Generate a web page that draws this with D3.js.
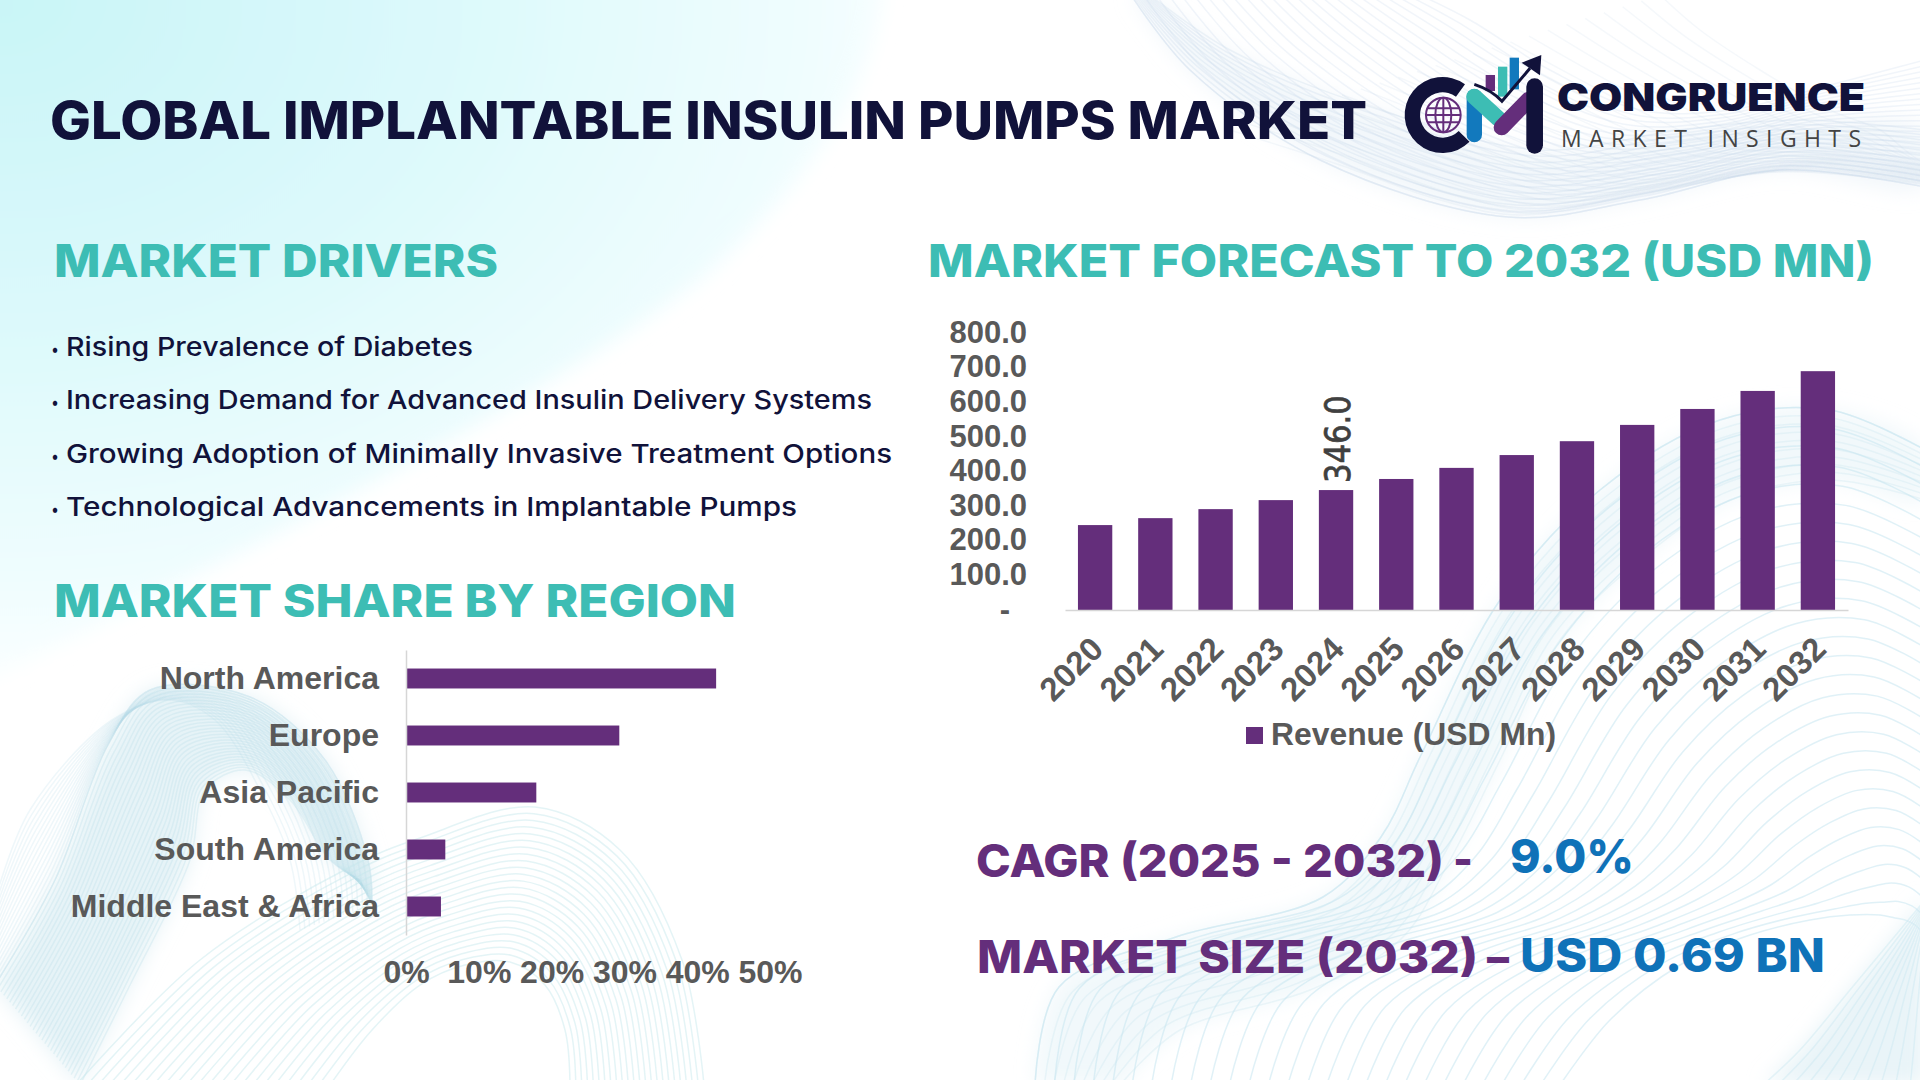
<!DOCTYPE html>
<html>
<head>
<meta charset="utf-8">
<script src="https://cdn.jsdelivr.net/npm/d3@7"></script>
<style>
  html, body { margin: 0; background: #fff; }
  svg { display: block; }
  text { font-family: Inter, "Noto Sans", sans-serif; }
  .chart text { font-family: "Liberation Sans", Arial, sans-serif; font-weight: 700; fill: #595959; }
</style>
</head>
<body>
<div id="chart"></div>
<script>
// datos
const years = [2020, 2021, 2022, 2023, 2024, 2025, 2026, 2027, 2028, 2029, 2030, 2031, 2032]
const revenue = [245, 265, 291, 317, 346, 378, 410, 447, 487, 534, 580, 632, 689]
const revenueTicks = [0, 100, 200, 300, 400, 500, 600, 700, 800]
const labelledYear = 2024
const regions = ['North America', 'Europe', 'Asia Pacific', 'South America', 'Middle East & Africa']
const regionShare = [42.6, 29.3, 17.9, 5.4, 4.8]
const shareTicks = [0, 10, 20, 30, 40, 50]
const drivers = [
  'Rising Prevalence of Diabetes',
  'Increasing Demand for Advanced Insulin Delivery Systems',
  'Growing Adoption of Minimally Invasive Treatment Options',
  'Technological Advancements in Implantable Pumps',
]

const PURPLE = '#642e7b', TEAL = '#3dbdb4', BLUE = '#0f72b8', NAVY = '#11123a'

const svg = d3.select('#chart').append('svg').attr('width', 1920).attr('height', 1080)
const defs = svg.append('defs')

// fondo
const grad = defs.append('radialGradient').attr('id', 'wash')
  .attr('gradientUnits', 'userSpaceOnUse')
  .attr('cx', 0).attr('cy', 0).attr('r', 1000)
  .attr('gradientTransform', 'scale(1,0.72)')
grad.append('stop').attr('offset', 0).attr('stop-color', '#c9f5f7')
grad.append('stop').attr('offset', 0.45).attr('stop-color', '#dcf9fb')
grad.append('stop').attr('offset', 0.8).attr('stop-color', '#effdfe')
grad.append('stop').attr('offset', 1).attr('stop-color', '#ffffff')
defs.append('filter').attr('id', 'soft').attr('x', '-10%').attr('y', '-10%').attr('width', '120%').attr('height', '120%')
  .append('feGaussianBlur').attr('stdDeviation', 10)

svg.append('path')
  .attr('d', 'M-30,-30 L885,-30 C880,90 800,190 700,280 C500,430 220,560 -30,690 Z')
  .attr('fill', 'url(#wash)')
  .attr('filter', 'url(#soft)')

const waveLine = d3.line().curve(d3.curveCatmullRom.alpha(0.5))

// familia de lineas entre dos curvas guia, solo decoracion
function waves(from, to, count, color, opacity, width = 1.5) {
  const t = d3.range(count).map(i => i / (count - 1))
  svg.append('g').attr('fill', 'none').attr('stroke', color)
    .attr('stroke-opacity', opacity).attr('stroke-width', width)
    .selectAll('path').data(t).join('path')
    .attr('d', k => waveLine(from.map((p, i) => [
      p[0] + (to[i][0] - p[0]) * k,
      p[1] + (to[i][1] - p[1]) * k,
    ])))
}

// banda palida detras de las lineas
function band(from, to, color, opacity) {
  const edge = waveLine([...from, ...to.slice().reverse()])
  svg.append('path').attr('d', edge + 'Z').attr('fill', color).attr('fill-opacity', opacity)
    .attr('filter', 'url(#soft)')
}

// arriba a la derecha
const topEdge = [[1131, -5], [1190, 70], [1320, 160], [1508, 217], [1640, 200], [1780, 170], [1925, 187]]
const topInner = [[1150, -5], [1230, 50], [1380, 110], [1540, 150], [1680, 130], [1800, 120], [1925, 130]]
band(topEdge, topInner, '#e3edf6', 0.45)
waves(topEdge, [[1420, -5], [1470, 20], [1550, 70], [1640, 110], [1730, 110], [1830, 85], [1925, 60]], 24, '#c7d9ea', 0.25)
waves(topEdge, topInner, 12, '#c7d9ea', 0.28)
waves([[1660, -5], [1700, 30], [1760, 70], [1830, 110], [1880, 130], [1905, 150], [1925, 165]],
  [[1230, 130], [1340, 165], [1440, 200], [1520, 215], [1640, 195], [1780, 172], [1925, 185]], 24, '#c7d9ea', 0.18)

// abajo a la izquierda
const humpOuter = [[-5, 985], [55, 880], [108, 745], [150, 690], [250, 697], [325, 760], [368, 860], [372, 905]]
const humpInner = [[80, 1085], [130, 985], [190, 860], [205, 790], [245, 770], [290, 800], [330, 860], [360, 880]]
band(humpOuter, humpInner, '#d5ebf1', 0.6)
waves(humpOuter, humpInner, 30, '#b4dbe7', 0.28)
waves(humpOuter, [[-5, 900], [30, 810], [112, 720], [170, 700], [215, 720], [260, 790], [290, 860], [300, 930]], 16, '#b4dbe7', 0.22)
waves([[76, 1085], [200, 960], [352, 866], [420, 838], [535, 807], [620, 850], [682, 960], [704, 1085]],
  [[330, 1085], [372, 1030], [420, 985], [465, 965], [510, 962], [545, 985], [565, 1030], [570, 1085]], 24, '#c3e6ea', 0.45)

// abajo a la derecha
const rightEdge = [[1035, 1085], [1059, 987], [1176, 937], [1323, 897], [1381, 837], [1422, 753], [1500, 600], [1600, 490], [1720, 420], [1830, 410], [1925, 450]]
const rightBand = [[1120, 1085], [1180, 1030], [1310, 990], [1400, 940], [1450, 860], [1500, 760], [1560, 640], [1640, 560], [1730, 500], [1830, 480], [1925, 500]]
band(rightEdge, rightBand, '#e3f2f7', 0.5)
waves(rightEdge, [[1560, 1085], [1610, 1020], [1680, 965], [1750, 935], [1810, 920], [1850, 915], [1880, 915], [1895, 918], [1905, 920], [1915, 925], [1925, 935]], 28, '#c6e5f0', 0.55)
waves(rightBand, rightEdge, 10, '#c6e5f0', 0.3)
band([[1763, 1085], [1800, 1050], [1850, 990], [1900, 930], [1925, 900]], [[1925, 1085], [1925, 1050], [1925, 1000], [1925, 950], [1925, 920]], '#dff0f5', 0.7)
waves([[1763, 1085], [1800, 1050], [1850, 990], [1900, 930], [1925, 900]], [[1925, 1085], [1925, 1050], [1925, 1000], [1925, 950], [1925, 920]], 12, '#c6e5f0', 0.4)

// textos con ancho fijo
function label(text, x, y, size, width, color, weight = 800) {
  return svg.append('text').text(text)
    .attr('x', x).attr('y', y)
    .attr('font-size', size).attr('font-weight', weight).attr('fill', color)
    .attr('textLength', width).attr('lengthAdjust', 'spacingAndGlyphs')
}

label('GLOBAL IMPLANTABLE INSULIN PUMPS MARKET', 50, 139, 52, 1317, NAVY)
label('MARKET DRIVERS', 54, 277, 45, 444, TEAL)
label('MARKET FORECAST TO 2032 (USD MN)', 928, 277, 45, 946, TEAL)
label('MARKET SHARE BY REGION', 54, 617, 45, 682, TEAL)

const driverWidth = [407, 806, 826, 731]
drivers.forEach((d, i) => {
  const y = 356 + i * 53.3
  label('•', 51, y - 1, 17, 8, NAVY, 400)
  label(d, 66, y, 26, driverWidth[i], NAVY, 500)
})

label('CAGR (2025 - 2032)', 976, 877, 45, 468, PURPLE)
label('-', 1453, 875, 45, 20, PURPLE)
label('9.0%', 1510, 873, 47, 124, BLUE)
label('MARKET SIZE (2032)', 977, 973, 45, 501, PURPLE)
label('–', 1487, 973, 45, 22, PURPLE)
label('USD 0.69 BN', 1520, 972, 47, 305, BLUE)

// logo
const logo = svg.append('g').attr('transform', 'translate(1380,40) scale(0.3333)')
logo.append('path').attr('transform', 'translate(188,225)')
  .attr('d', d3.arc()({ innerRadius: 68, outerRadius: 114, startAngle: Math.PI * 0.75, endAngle: Math.PI * 2.2 }))
  .attr('fill', NAVY)
const globe = logo.append('g').attr('fill', 'none').attr('stroke', PURPLE).attr('stroke-width', 6)
globe.append('circle').attr('cx', 190).attr('cy', 225).attr('r', 52)
globe.append('ellipse').attr('cx', 190).attr('cy', 225).attr('rx', 24).attr('ry', 52)
globe.append('path').attr('d', 'M190,173 V277 M142,205 H238 M138,225 H242 M142,247 H238')
const stroke = (d, color, w) => logo.append('path').attr('d', d).attr('fill', 'none')
  .attr('stroke', color).attr('stroke-width', w).attr('stroke-linecap', 'round')
stroke('M283,170 V284', '#1279bd', 46)
stroke('M283,170 L355,236', TEAL, 48)
stroke('M365,262 L445,180', PURPLE, 48)
stroke('M464,140 V316', NAVY, 50)
logo.append('rect').attr('x', 317).attr('y', 105).attr('width', 28).attr('height', 48).attr('fill', PURPLE)
logo.append('rect').attr('x', 354).attr('y', 80).attr('width', 28).attr('height', 90).attr('fill', TEAL)
logo.append('rect').attr('x', 389).attr('y', 53).attr('width', 28).attr('height', 95).attr('fill', '#1279bd')
logo.append('path').attr('d', 'M283,133 C320,145 345,160 366,184 L450,85').attr('fill', 'none').attr('stroke', NAVY).attr('stroke-width', 9)
logo.append('path').attr('d', 'M425,68 L484,45 L480,106 Z').attr('fill', NAVY)

label('CONGRUENCE', 1557, 111, 38, 308, NAVY, 900)
svg.append('text').text('MARKET INSIGHTS')
  .attr('x', 1561).attr('y', 147).attr('font-size', 23).attr('font-weight', 400).attr('fill', '#444')
  .style('font-family', '"Open Sans"')
  .attr('textLength', 300).attr('lengthAdjust', 'spacing')

// grafico de columnas
const x = d3.scaleBand().domain(years).range([1065, 1848]).paddingInner(0.43).paddingOuter(0.215)
const y = d3.scaleLinear().domain([0, 800]).range([610, 332.7])

const columns = svg.append('g').attr('class', 'chart')
columns.append('g').selectAll('rect').data(years).join('rect')
  .attr('x', d => x(d))
  .attr('y', (d, i) => y(revenue[i]))
  .attr('width', x.bandwidth())
  .attr('height', (d, i) => y(0) - y(revenue[i]))
  .attr('fill', PURPLE)

const yAxis = columns.append('g').attr('transform', 'translate(1036,0)')
  .call(d3.axisLeft(y).tickValues(revenueTicks).tickSize(0).tickPadding(9)
    .tickFormat(d => d === 0 ? '-' : d.toFixed(1)))
yAxis.select('.domain').remove()
yAxis.selectAll('text').attr('font-size', 31).attr('dy', '.3em')
  .filter(d => d === 0).attr('dx', -17)

const xAxis = columns.append('g').attr('transform', 'translate(0,610)')
  .call(d3.axisBottom(x).tickSize(0).tickSizeOuter(0))
xAxis.select('.domain').attr('stroke', '#d6d6d6').attr('stroke-width', 1.5)
xAxis.selectAll('text').attr('font-size', 33)
  .attr('text-anchor', 'end')
  .attr('y', 0).attr('dy', 0)
  .attr('transform', 'translate(10,41) rotate(-45)')

const iLabel = years.indexOf(labelledYear)
const labelX = x(labelledYear) + x.bandwidth() / 2
const labelY = y(revenue[iLabel]) - 7
columns.append('text')
  .text(revenue[iLabel].toFixed(1))
  .attr('transform', `translate(${labelX + 14},${labelY}) rotate(-90)`)
  .attr('font-size', 36)
  .attr('textLength', 88).attr('lengthAdjust', 'spacingAndGlyphs')
  .style('font-family', '"DejaVu Sans"').style('font-weight', 400).style('fill', '#404040')
  .style('stroke', '#404040').style('stroke-width', 0.7)

columns.append('rect').attr('x', 1246).attr('y', 727).attr('width', 17).attr('height', 17).attr('fill', PURPLE)
columns.append('text').text('Revenue (USD Mn)').attr('x', 1271).attr('y', 745)
  .attr('font-size', 31).attr('textLength', 285).attr('lengthAdjust', 'spacingAndGlyphs')

// barras por region
const xShare = d3.scaleLinear().domain([0, 50]).range([406, 770])
const yRegion = d3.scaleBand().domain(regions).range([650, 935]).paddingInner(0.65).paddingOuter(0.325)

const bars = svg.append('g').attr('class', 'chart')
bars.append('g').selectAll('rect').data(regions).join('rect')
  .attr('x', xShare(0))
  .attr('y', d => yRegion(d))
  .attr('width', (d, i) => xShare(regionShare[i]) - xShare(0))
  .attr('height', yRegion.bandwidth())
  .attr('fill', PURPLE)

const regionAxis = bars.append('g').attr('transform', `translate(${xShare(0)},0)`)
  .call(d3.axisLeft(yRegion).tickSize(0).tickSizeOuter(0).tickPadding(27))
regionAxis.select('.domain').attr('stroke', '#d6d6d6').attr('stroke-width', 1.5)
regionAxis.selectAll('text').attr('font-size', 32).attr('dy', '.33em')

const shareAxis = bars.append('g').attr('transform', 'translate(0,935)')
  .call(d3.axisBottom(xShare).tickValues(shareTicks).tickSize(0).tickPadding(25).tickFormat(d => d + '%'))
shareAxis.select('.domain').remove()
shareAxis.selectAll('text').attr('font-size', 32)
</script>
</body>
</html>
